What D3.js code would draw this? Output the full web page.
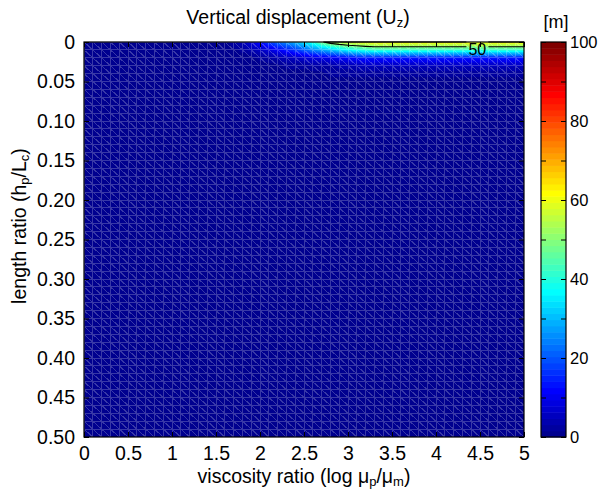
<!DOCTYPE html>
<html><head><meta charset="utf-8">
<script src="https://cdn.jsdelivr.net/npm/d3@7"></script>
<style>
body{margin:0;background:#fff}
svg{display:block}
text{font-family:Arial,"Liberation Sans",sans-serif;fill:#000}
</style>
</head><body>
<script>
// ---- data ----
const xNodes=[0,0.1,0.2,0.3,0.4,0.5,0.6,0.7,0.8,0.9,1,1.1,1.2,1.3,1.4,1.5,1.6,1.7,1.8,1.9,2,2.1,2.2,2.3,2.4,2.5,2.6,2.7,2.8,2.9,3,3.1,3.2,3.3,3.4,3.5,3.6,3.7,3.8,3.9,4,4.1,4.2,4.3,4.4,4.5,4.6,4.7,4.8,4.9,5];
const yNodes=[0,0.01,0.02,0.03,0.04,0.05,0.06,0.07,0.08,0.09,0.1,0.11,0.12,0.13,0.14,0.15,0.16,0.17,0.18,0.19,0.2,0.21,0.22,0.23,0.24,0.25,0.26,0.27,0.28,0.29,0.3,0.31,0.32,0.33,0.34,0.35,0.36,0.37,0.38,0.39,0.4,0.41,0.42,0.43,0.44,0.45,0.46,0.47,0.48,0.49,0.5];
// Uz [m] at depth rows y = 0, 0.01, 0.02, 0.03, 0.04
const uzRow0=[1,1,1,1,1,1,1,1,1,1,1,1,1,1,1,1,1,3,5,9,13,18,22,26,30,35,41,49,54,57,59,60,61,62,62,62,62,62,62,62,62,62,62,62,62,62,62,62,62,62,62];
const uzRow1=[1,1,1,1,1,1,1,1,1,1,1,1,1,1,1,1,1,1,2,4,6,8,11,14,17,21,25,28,31,34,37,39,41,42,42,42,42,42,42,42,42,42,42,42,42,42,42,42,42,42,42];
const uzRow2=[1,1,1,1,1,1,1,1,1,1,1,1,1,1,1,1,1,1,1,1,2,3,4,5,6,7,8,9,10,11,12,13,14,14,14,14,14,14,14,14,14,14,14,14,14,14,14,14,14,14,14];
const uzRow3=[1,1,1,1,1,1,1,1,1,1,1,1,1,1,1,1,1,1,1,1,1,1,1,2,2,2,3,3,3,4,4,5,5,5,5,5,5,5,5,5,5,5,5,5,5,5,5,5,5,5,5];
const uzRow4=[1,1,1,1,1,1,1,1,1,1,1,1,1,1,1,1,1,1,1,1,1,1,1,1,1,1,1,1,2,2,2,2,2,2,2,2,2,2,2,2,2,2,2,2,2,2,2,2,2,2,2];
// rows y >= 0.05 look uniform dark blue
const uzDeepRow=[1,1,1,1,1,1,1,1,1,1,1,1,1,1,1,1,1,1,1,1,1,1,1,1,1,1,1,1,1,1,1,1,1,1,1,1,1,1,1,1,1,1,1,1,1,1,1,1,1,1,1];
const contourLevels=[50];
const xTicks=[0,0.5,1,1.5,2,2.5,3,3.5,4,4.5,5];
const xTickLabels=["0","0.5","1","1.5","2","2.5","3","3.5","4","4.5","5"];
const yTicks=[0,0.05,0.1,0.15,0.2,0.25,0.3,0.35,0.4,0.45,0.5];
const yTickLabels=["0","0.05","0.10","0.15","0.20","0.25","0.30","0.35","0.40","0.45","0.50"];
const cbTicks=[0,10,20,30,40,50,60,70,80,90,100];
const cbTickLabels=["0","","20","","40","","60","","80","","100"];
const cRange=[0,100];

// ---- build grid ----
const nx=xNodes.length, ny=yNodes.length;
const grid=yNodes.map((y,j)=>{
  const r=[uzRow0,uzRow1,uzRow2,uzRow3,uzRow4][j];
  return r?r:uzDeepRow;
});

// ---- jet(64) colormap ----
function jetMap(m){
  const n=Math.ceil(m/4);
  const u=[];
  for(let i=1;i<=n;i++)u.push(i/n);
  for(let i=0;i<n-1;i++)u.push(1);
  for(let i=n;i>=1;i--)u.push(i/n);
  const g0=Math.ceil(n/2)-((m%4)===1?1:0);
  const J=d3.range(m).map(()=>[0,0,0]);
  u.forEach((val,k)=>{
    const g=g0+k+1, r=g+n, b=g-n;
    if(r>=1&&r<=m)J[r-1][0]=val;
    if(g>=1&&g<=m)J[g-1][1]=val;
    if(b>=1&&b<=m)J[b-1][2]=val;
  });
  return J.map(c=>c.map(v=>Math.round(v*255)));
}
const cmap=jetMap(64);
const idxOf=v=>Math.max(0,Math.min(63,Math.floor((v-cRange[0])/(cRange[1]-cRange[0])*64)));

// ---- layout ----
const W=598,H=489;
const X0=84,X1=524,Y0=42,Y1=437;
const x=d3.scaleLinear().domain([0,5]).range([X0,X1]);
const y=d3.scaleLinear().domain([0,0.5]).range([Y0,Y1]);

const svg=d3.select("body").append("svg").attr("width",W).attr("height",H);
svg.append("rect").attr("width",W).attr("height",H).attr("fill","#fff");

// ---- field image (triangles, interpolated colour) ----
const pw=X1-X0, ph=Y1-Y0;
const cv=document.createElement("canvas");cv.width=pw;cv.height=ph;
const ctx=cv.getContext("2d");
const img=ctx.createImageData(pw,ph);
const xi=d3.scaleLinear().domain([0,5]).range([0,nx-1]);
const yi=d3.scaleLinear().domain([0,0.5]).range([0,ny-1]);
for(let py=0;py<ph;py++){
  const gy=yi(y.invert(Y0+py+0.5));
  let j=Math.min(ny-2,Math.floor(gy));const v=gy-j;
  for(let px=0;px<pw;px++){
    const gx=xi(x.invert(X0+px+0.5));
    let i=Math.min(nx-2,Math.floor(gx));const uu=gx-i;
    const TL=grid[j][i],TR=grid[j][i+1],BL=grid[j+1][i],BR=grid[j+1][i+1];
    let val;
    if(uu>=v) val=TL+uu*(TR-TL)+v*(BR-TR);
    else val=TL+v*(BL-TL)+uu*(BR-BL);
    const c=cmap[idxOf(val)];
    const o=(py*pw+px)*4;
    img.data[o]=c[0];img.data[o+1]=c[1];img.data[o+2]=c[2];img.data[o+3]=255;
  }
}
ctx.putImageData(img,0,0);
svg.append("image").attr("x",X0).attr("y",Y0).attr("width",pw).attr("height",ph)
  .attr("href",cv.toDataURL());

// ---- mesh edges ----
let mp="";
xNodes.forEach(d=>{mp+=`M${x(d)},${Y0}V${Y1}`;});
yNodes.forEach(d=>{mp+=`M${X0},${y(d)}H${X1}`;});
for(let j=0;j<ny-1;j++)for(let i=0;i<nx-1;i++){
  mp+=`M${x(xNodes[i])},${y(yNodes[j])}L${x(xNodes[i+1])},${y(yNodes[j+1])}`;
}
svg.append("path").attr("d",mp).attr("fill","none").attr("stroke","#fff")
  .attr("stroke-opacity",0.22).attr("stroke-width",1).attr("shape-rendering","crispEdges");

// ---- contour 50 ----
const flat=[];grid.forEach(r=>r.forEach(v=>flat.push(v)));
const cont=d3.contours().size([nx,ny]).thresholds(contourLevels)(flat);
const cx=g=>x(xNodes[0]+Math.max(0,Math.min(nx-1,g-0.5))*(xNodes[1]-xNodes[0]));
const cy=g=>y(yNodes[0]+Math.max(0,Math.min(ny-1,g-0.5))*(yNodes[1]-yNodes[0]));
const labelX=x(4.47), labelY=49;
const defs=svg.append("defs");
const mask=defs.append("mask").attr("id","lblmask").attr("maskUnits","userSpaceOnUse")
  .attr("x",0).attr("y",0).attr("width",W).attr("height",H);
mask.append("rect").attr("width",W).attr("height",H).attr("fill","#fff");
mask.append("rect").attr("x",labelX-11).attr("y",labelY-8).attr("width",22).attr("height",16).attr("fill","#000");
cont.forEach(c=>{
  let d="";
  c.coordinates.forEach(poly=>poly.forEach(ring=>{
    ring.forEach((p,k)=>{d+=(k?"L":"M")+cx(p[0])+","+cy(p[1]);});
  }));
  svg.append("path").attr("d",d).attr("fill","none").attr("stroke","#000")
    .attr("stroke-width",1.1).attr("mask","url(#lblmask)");
});
svg.append("text").attr("x",labelX).attr("y",labelY).attr("text-anchor","middle")
  .attr("dominant-baseline","central").attr("font-size",16).text("50");

// ---- axes box and ticks ----
svg.append("rect").attr("x",X0).attr("y",Y0).attr("width",pw).attr("height",ph)
  .attr("fill","none").attr("stroke","#000").attr("stroke-width",1.2);
const tl=5;
const axB=svg.append("g").attr("transform",`translate(0,${Y1})`)
  .call(d3.axisBottom(x).tickValues(xTicks).tickFormat((d,i)=>xTickLabels[i]).tickSizeInner(-tl).tickSizeOuter(0).tickPadding(9));
const axT=svg.append("g").attr("transform",`translate(0,${Y0})`)
  .call(d3.axisTop(x).tickValues(xTicks).tickFormat("").tickSizeInner(-tl).tickSizeOuter(0));
const axL=svg.append("g").attr("transform",`translate(${X0},0)`)
  .call(d3.axisLeft(y).tickValues(yTicks).tickFormat((d,i)=>yTickLabels[i]).tickSizeInner(-tl).tickSizeOuter(0).tickPadding(9));
const axR=svg.append("g").attr("transform",`translate(${X1},0)`)
  .call(d3.axisRight(y).tickValues(yTicks).tickFormat("").tickSizeInner(-tl).tickSizeOuter(0));
[axB,axT,axL,axR].forEach(a=>{a.select(".domain").remove();a.selectAll("line").attr("stroke","#000");
  a.selectAll("text").attr("font-size",19.5).attr("font-family","Arial, 'Liberation Sans', sans-serif").attr("fill","#000");});

// ---- colorbar ----
const CX0=541,CX1=566;
const cby=d3.scaleLinear().domain(cRange).range([Y1,Y0]);
const step=(cRange[1]-cRange[0])/64;
svg.append("g").selectAll("rect").data(cmap).join("rect")
  .attr("x",CX0).attr("width",CX1-CX0)
  .attr("y",(c,k)=>cby(cRange[0]+(k+1)*step)).attr("height",(c,k)=>cby(cRange[0]+k*step)-cby(cRange[0]+(k+1)*step)+0.5)
  .attr("fill",c=>`rgb(${c[0]},${c[1]},${c[2]})`);
svg.append("rect").attr("x",CX0).attr("y",Y0).attr("width",CX1-CX0).attr("height",ph)
  .attr("fill","none").attr("stroke","#000").attr("stroke-width",1.2);
const cbR=svg.append("g").attr("transform",`translate(${CX1},0)`)
  .call(d3.axisRight(cby).tickValues(cbTicks).tickFormat((d,i)=>cbTickLabels[i]).tickSizeInner(-tl).tickSizeOuter(0).tickPadding(4));
const cbL=svg.append("g").attr("transform",`translate(${CX0},0)`)
  .call(d3.axisLeft(cby).tickValues(cbTicks).tickFormat("").tickSizeInner(-tl).tickSizeOuter(0));
[cbR,cbL].forEach(a=>{a.select(".domain").remove();a.selectAll("line").attr("stroke","#000");
  a.selectAll("text").attr("font-size",16.5).attr("font-family","Arial, 'Liberation Sans', sans-serif").attr("fill","#000");});
svg.append("text").attr("x",556).attr("y",28).attr("text-anchor","middle").attr("font-size",18).text("[m]");

// ---- titles ----
const t=svg.append("text").attr("x",298).attr("y",24).attr("text-anchor","middle").attr("font-size",19.5);
t.append("tspan").text("Vertical displacement (U");
t.append("tspan").attr("font-size",13).attr("dy",3).text("z");
t.append("tspan").attr("dy",-3).text(")");

const xl=svg.append("text").attr("x",304).attr("y",483).attr("text-anchor","middle").attr("font-size",19.5);
xl.append("tspan").text("viscosity ratio (log μ");
xl.append("tspan").attr("font-size",13).attr("dy",3).text("p");
xl.append("tspan").attr("dy",-3).text("/μ");
xl.append("tspan").attr("font-size",13).attr("dy",3).text("m");
xl.append("tspan").attr("dy",-3).text(")");

const yl=svg.append("text").attr("transform","translate(26,226) rotate(-90)").attr("text-anchor","middle").attr("font-size",19.5);
yl.append("tspan").text("length ratio (h");
yl.append("tspan").attr("font-size",13).attr("dy",3).text("p");
yl.append("tspan").attr("dy",-3).text("/L");
yl.append("tspan").attr("font-size",13).attr("dy",3).text("c");
yl.append("tspan").attr("dy",-3).text(")");
</script>
</body></html>
